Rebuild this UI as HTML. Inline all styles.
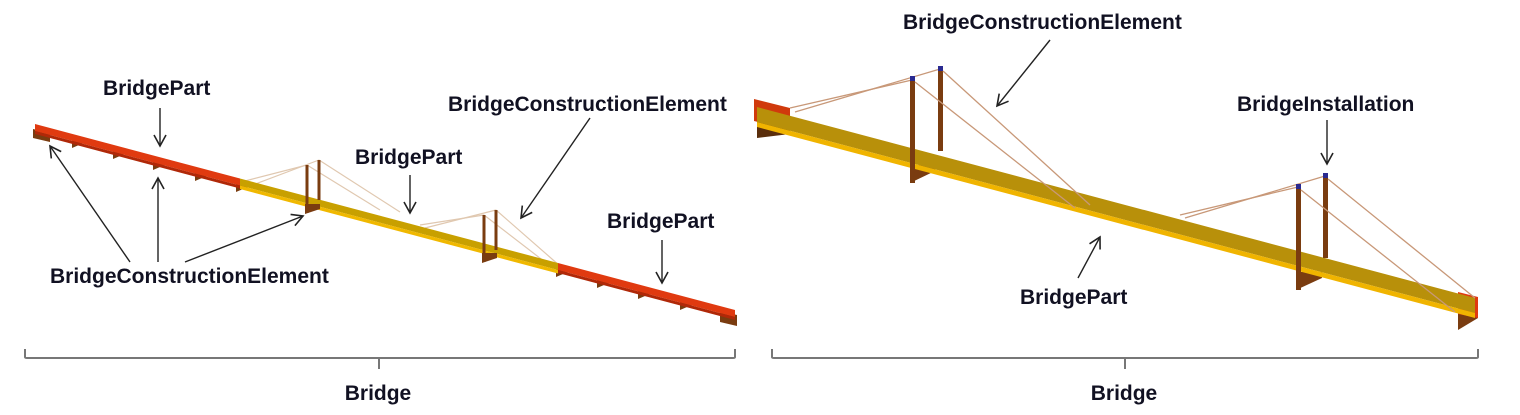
<!DOCTYPE html>
<html><head><style>
html,body{margin:0;padding:0;background:#fff;}
svg{display:block;}
text{font-family:"Liberation Sans",Arial,sans-serif;font-weight:bold;font-size:21px;fill:#111122;}
</style></head><body>
<svg width="1520" height="415" viewBox="0 0 1520 415" xmlns="http://www.w3.org/2000/svg">
<defs>
<marker id="ah" markerWidth="14" markerHeight="14" refX="12" refY="7" orient="auto" markerUnits="userSpaceOnUse">
<path d="M1,1 L12,7 L1,13" fill="none" stroke="#222" stroke-width="1.6"/>
</marker>
</defs>

<!-- LEFT BRIDGE -->
<g>
<g stroke="#e0c8b0" stroke-width="1.2" fill="none">
<line x1="245" y1="181" x2="307" y2="165"/>
<line x1="250" y1="186" x2="319" y2="160"/>
<line x1="307" y1="165" x2="380" y2="210"/>
<line x1="319" y1="160" x2="400" y2="212"/>
<line x1="420" y1="225" x2="484" y2="215"/>
<line x1="425" y1="228" x2="496" y2="210"/>
<line x1="484" y1="215" x2="545" y2="262"/>
<line x1="496" y1="210" x2="560" y2="266"/>
</g>
<g fill="#7a3c10">
<polygon points="33,129 50,133 50,142 33,138"/>
<polygon points="72,138 86,142 72,148"/>
<polygon points="113,149 127,153 113,159"/>
<polygon points="153,160 167,164 153,170"/>
<polygon points="195,171 209,175 195,181"/>
<polygon points="236,182 250,186 236,192"/>
<polygon points="556,267 570,271 556,277"/>
<polygon points="597,278 611,282 597,288"/>
<polygon points="638,289 652,293 638,299"/>
<polygon points="680,300 694,304 680,310"/>
<polygon points="720,311 737,315 737,326 720,322"/>
</g>
<polygon points="35,124 240,178.5 240,185.5 35,131" fill="#e03a10"/>
<polygon points="35,131 240,185.5 240,188.5 35,134" fill="#b02808"/>
<polygon points="240,178.5 558,263 558,270 240,185.5" fill="#c8a000"/>
<polygon points="240,185.5 558,270 558,273.5 240,189" fill="#f0b800"/>
<polygon points="558,263 735,310 735,317 558,270" fill="#e03a10"/>
<polygon points="558,270 735,317 735,320 558,273" fill="#b02808"/>
<g fill="#7a3c10">
<rect x="305.5" y="165" width="3" height="48"/>
<rect x="317.5" y="160" width="3" height="40"/>
<polygon points="305,204 320,204 320,209 305,214"/>
<rect x="482.5" y="215" width="3" height="47"/>
<rect x="494.5" y="210" width="3" height="40"/>
<polygon points="482,253 497,253 497,258 482,263"/>
</g>
</g>

<!-- LEFT LABELS -->
<text x="103" y="95">BridgePart</text>
<line x1="160" y1="108" x2="160" y2="146" stroke="#222" stroke-width="1.4" marker-end="url(#ah)"/>
<text x="50" y="283">BridgeConstructionElement</text>
<line x1="130" y1="262" x2="50" y2="146" stroke="#222" stroke-width="1.4" marker-end="url(#ah)"/>
<line x1="158" y1="262" x2="158" y2="178" stroke="#222" stroke-width="1.4" marker-end="url(#ah)"/>
<line x1="185" y1="262" x2="303" y2="216" stroke="#222" stroke-width="1.4" marker-end="url(#ah)"/>
<text x="355" y="164">BridgePart</text>
<line x1="410" y1="175" x2="410" y2="213" stroke="#222" stroke-width="1.4" marker-end="url(#ah)"/>
<text x="448" y="111">BridgeConstructionElement</text>
<line x1="590" y1="118" x2="521" y2="218" stroke="#222" stroke-width="1.4" marker-end="url(#ah)"/>
<text x="607" y="228">BridgePart</text>
<line x1="662" y1="240" x2="662" y2="283" stroke="#222" stroke-width="1.4" marker-end="url(#ah)"/>

<path d="M25,349 L25,357 Q25,358 27,358 L733,358 Q735,358 735,357 L735,349 M379,358 L379,369" fill="none" stroke="#777" stroke-width="2"/>
<text x="378" y="400" text-anchor="middle">Bridge</text>

<!-- RIGHT BRIDGE -->
<g>
<polygon points="754,99 790,108 790,130 754,121" fill="#d03a0c"/>
<polygon points="757,120 790,128 790,134 757,138" fill="#5a2e0c"/>
<g fill="#7a3c10">
<polygon points="910,165 935,165 935,171 910,183"/>
<polygon points="1296,272 1322,272 1322,278 1296,290"/>
<polygon points="1458,305 1478,305 1478,318 1458,330"/>
</g>
<polygon points="1458,292 1478,297 1478,318 1458,314" fill="#e03a10"/>
<g stroke="#c89878" stroke-width="1.3" fill="none">
<line x1="790" y1="108" x2="912" y2="80"/>
<line x1="795" y1="112" x2="940" y2="69"/>
<line x1="1180" y1="215" x2="1298" y2="187"/>
<line x1="1185" y1="218" x2="1325" y2="176"/>
</g>
<polygon points="757,107 1475,298 1475,313 757,122" fill="#b8900a"/>
<polygon points="757,122 1475,313 1475,318 757,127" fill="#f0b400"/>
<g fill="#7a3c10">
<rect x="910" y="80" width="5" height="103"/>
<rect x="938" y="69" width="5" height="82"/>
<rect x="1296" y="187" width="5" height="103"/>
<rect x="1323" y="176" width="5" height="82"/>
</g>
<g fill="#2a2a90">
<rect x="910" y="76" width="5" height="5"/>
<rect x="938" y="66" width="5" height="5"/>
<rect x="1296" y="184" width="5" height="5"/>
<rect x="1323" y="173" width="5" height="5"/>
</g>
<g stroke="#c89878" stroke-width="1.3" fill="none">
<line x1="915" y1="82" x2="1075" y2="208"/>
<line x1="943" y1="71" x2="1090" y2="205"/>
<line x1="1301" y1="190" x2="1455" y2="312"/>
<line x1="1328" y1="179" x2="1475" y2="298"/>
</g>
</g>

<text x="903" y="29">BridgeConstructionElement</text>
<line x1="1050" y1="40" x2="997" y2="106" stroke="#222" stroke-width="1.4" marker-end="url(#ah)"/>
<text x="1237" y="111">BridgeInstallation</text>
<line x1="1327" y1="120" x2="1327" y2="164" stroke="#222" stroke-width="1.4" marker-end="url(#ah)"/>
<text x="1020" y="304">BridgePart</text>
<line x1="1078" y1="278" x2="1100" y2="237" stroke="#222" stroke-width="1.4" marker-end="url(#ah)"/>

<path d="M772,349 L772,357 Q772,358 774,358 L1476,358 Q1478,358 1478,357 L1478,349 M1125,358 L1125,369" fill="none" stroke="#777" stroke-width="2"/>
<text x="1124" y="400" text-anchor="middle">Bridge</text>
</svg>
</body></html>
